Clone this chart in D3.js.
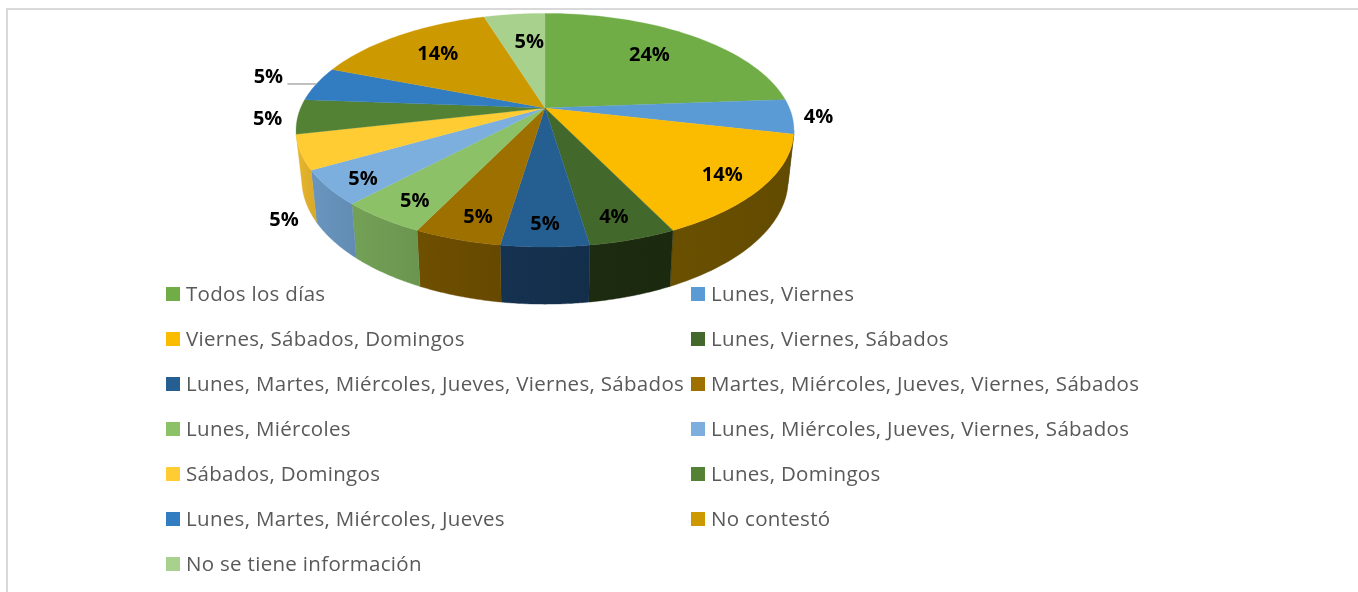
<!DOCTYPE html>
<html><head><meta charset="utf-8">
<script src="https://cdn.jsdelivr.net/npm/d3@7/dist/d3.min.js"></script>
<style>html,body{margin:0;padding:0;background:#fff;overflow:hidden}svg{display:block;filter:blur(.35px)}</style>
</head><body><div id="c"></div>
<script>
const categories = ["Todos los días","Lunes, Viernes","Viernes, Sábados, Domingos","Lunes, Viernes, Sábados","Lunes, Martes, Miércoles, Jueves, Viernes, Sábados","Martes, Miércoles, Jueves, Viernes, Sábados","Lunes, Miércoles","Lunes, Miércoles, Jueves, Viernes, Sábados","Sábados, Domingos","Lunes, Domingos","Lunes, Martes, Miércoles, Jueves","No contestó","No se tiene información"];
const sliceValues = [5,1,3,1,1,1,1,1,1,1,1,3,1];
const valueLabels = ["24%","4%","14%","4%","5%","5%","5%","5%","5%","5%","5%","14%","5%"];
const colors = ["#70ad47","#5b9bd5","#fbbc00","#43682b","#255e91","#9e7000","#8cc168","#7cafdd","#ffcd33","#548235","#327dc2","#cc9a00","#a9d18e"];
const wallColors = ["#43682b","#375d80","#664d00","#1c2a10","#14304d","#6a4c00","#6e9a52","#6590b8","#dfae2a","#3f6228","#265f94","#8a6800","#7f9d6a"];
const labelRadii = [.71,1.105,.84,.845,.855,.845,.846,.864,1.1,1.12,1.23,.723,.675];
const labelNudges = [[-3,-1],[0,-1],[-1,1],[-3,1],[0,0],[5,1],[4,1],[2,2],[10,62],[0,0],[2,-3],[2,-1],[6,0]];

const W=1358,H=592, cx=545, cy=108, rx=244.4, ry=112.6, k=0.19;
const svg=d3.select("#c").append("svg").attr("width",W).attr("height",H).style("font-family","'Open Sans',sans-serif");

svg.append("path").attr("d",d3.line()([[7,592],[7,9],[1358,9]])).attr("fill","none").attr("stroke","#d9d9d9").attr("stroke-width",2);

const pie=d3.pie().sort(null).value(d=>d)(sliceValues);
function topPt(t,r=1){const u=r*Math.sin(t),w=-r*Math.cos(t),d=1-k*w;return [cx+rx*u/d,cy+ry*w/d];}
function bottomPt(t){const [x,y]=topPt(t);return [cx+(x-cx)*.977,cy+47.8+(y-cy)*1.067];}
const arcPts=(a,b,f)=>d3.range(0,41).map(i=>f(a+(b-a)*i/40));
const line=d3.line();
const wallA=101*Math.PI/180, wallB=pie[8].endAngle;

const defs=svg.append("defs");
const walls=svg.append("g"), tops=svg.append("g");
pie.forEach((s,i)=>{
  const a=Math.max(s.startAngle,wallA), b=Math.min(s.endAngle,wallB);
  if(b>a){
    const c=d3.color(wallColors[i]);
    const g=defs.append("linearGradient").attr("id","w"+i);
    g.append("stop").attr("offset",0).attr("stop-color",c.brighter(.12));
    g.append("stop").attr("offset",1).attr("stop-color",c.darker(.1));
    walls.append("path").attr("fill",`url(#w${i})`).attr("stroke",wallColors[i]).attr("stroke-width",.4)
      .attr("d",line(arcPts(a,b,topPt).concat(arcPts(a,b,bottomPt).reverse()))+"Z");
  }
});
pie.forEach((s,i)=>{
  tops.append("path").attr("fill",colors[i]).attr("stroke",colors[i]).attr("stroke-width",.3)
    .attr("d",line([[cx,cy]].concat(arcPts(s.startAngle,s.endAngle,topPt)))+"Z");
});

// leader line for the slice whose label sits far out
const leaderIdx=10, lm=(pie[leaderIdx].startAngle+pie[leaderIdx].endAngle)/2, lp=topPt(lm);
svg.append("line").attr("x1",lp[0]).attr("y1",lp[1]).attr("x2",lp[0]-29).attr("y2",lp[1]).attr("stroke","#a6a6a6").attr("stroke-width",1.4);

pie.forEach((s,i)=>{
  const m=(s.startAngle+s.endAngle)/2, p=topPt(m,labelRadii[i]);
  svg.append("text").attr("x",p[0]+labelNudges[i][0]).attr("y",p[1]+labelNudges[i][1]).attr("dy","0.35em")
    .attr("text-anchor","middle").attr("font-size",20).attr("font-weight",700).attr("fill","#000")
    .text(valueLabels[i]);
});

const legendX=d3.scalePoint().domain([0,1]).range([166,691]);
const legendY=d3.scaleLinear().domain([0,1]).range([294,339]);
const lg=svg.selectAll("g.l").data(categories).join("g").attr("class","l")
  .attr("transform",(d,i)=>`translate(${legendX(i%2)},${legendY(Math.floor(i/2))})`);
lg.append("rect").attr("y",-7).attr("width",14).attr("height",14).attr("fill",(d,i)=>colors[i]);
lg.append("text").attr("x",20).attr("dy","0.35em").attr("font-size",20.5).attr("letter-spacing",.31).attr("fill","#595959").text(d=>d);
</script></body></html>
